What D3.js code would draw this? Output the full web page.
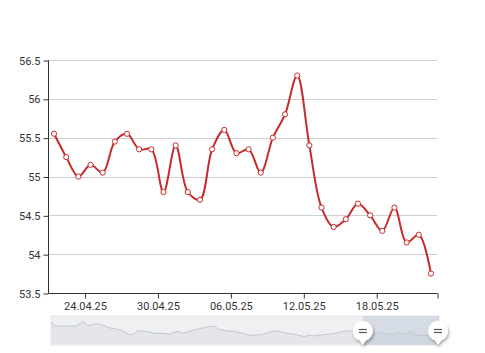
<!DOCTYPE html>
<html>
<head>
<meta charset="utf-8">
<script src="https://cdn.jsdelivr.net/npm/d3@7"></script>
<style>
  body { margin: 0; background: #fff; }
  svg { display: block; font-family: Roboto, "DejaVu Sans", sans-serif; }
</style>
</head>
<body>
<div id="chart"></div>
<script>
// main series: one point per day (shown at noon)
const dates = [
  '21.04.25', '22.04.25', '23.04.25', '24.04.25', '25.04.25', '26.04.25', '27.04.25', '28.04.25',
  '29.04.25', '30.04.25', '01.05.25', '02.05.25', '03.05.25', '04.05.25', '05.05.25', '06.05.25',
  '07.05.25', '08.05.25', '09.05.25', '10.05.25', '11.05.25', '12.05.25', '13.05.25', '14.05.25',
  '15.05.25', '16.05.25', '17.05.25', '18.05.25', '19.05.25', '20.05.25', '21.05.25', '22.05.25'
];
const values = [
  55.55, 55.25, 55.0, 55.15, 55.05, 55.45, 55.55, 55.35,
  55.35, 54.8, 55.4, 54.8, 54.7, 55.35, 55.6, 55.3,
  55.35, 55.05, 55.5, 55.8, 56.3, 55.4, 54.6, 54.35,
  54.45, 54.65, 54.5, 54.3, 54.6, 54.15, 54.25, 53.75
];
const yTicks = [53.5, 54, 54.5, 55, 55.5, 56, 56.5];
const xTickLabels = ['24.04.25', '30.04.25', '06.05.25', '12.05.25', '18.05.25'];

// earlier history shown only in the scrollbar preview
const historyDates = [
  '11.12.24', '12.12.24', '21.12.24', '24.12.24', '26.12.24', '28.12.24', '31.12.24', '04.01.25',
  '09.01.25', '12.01.25', '14.01.25', '16.01.25', '19.01.25', '23.01.25', '27.01.25', '29.01.25',
  '02.02.25', '04.02.25', '07.02.25', '11.02.25', '14.02.25', '17.02.25', '19.02.25', '23.02.25',
  '25.02.25', '01.03.25', '04.03.25', '09.03.25', '14.03.25', '16.03.25', '20.03.25', '24.03.25',
  '27.03.25', '29.03.25', '31.03.25', '02.04.25', '06.04.25', '10.04.25', '13.04.25', '16.04.25'
];
const historyValues = [
  59.7, 58.4, 58.4, 60.25, 58.4, 59.15, 59.3, 57.7,
  56.7, 54.9, 54.9, 56.4, 56.2, 55.3, 55.3, 54.9,
  56.2, 55.3, 56.3, 57.3, 58.0, 58.4, 57.0, 56.3,
  56.3, 55.3, 54.5, 54.7, 56.3, 56.2, 55.3, 54.7,
  53.9, 54.5, 54.2, 54.5, 54.9, 55.6, 56.3, 56.3
];

const width = 485;
const height = 353;
const margin = { top: 60, right: 48, bottom: 60, left: 48 };

const parse = d3.timeParse('%d.%m.%y');
const noon = (s) => d3.timeHour.offset(parse(s), 12);

const data = dates.map((d, i) => ({ date: noon(d), value: values[i] }));
const history = historyDates.map((d, i) => ({ date: noon(d), value: historyValues[i] }));
const allData = history.concat(data);

const start = parse(dates[0]);
const end = d3.timeDay.offset(parse(dates[dates.length - 1]), 1);

const svg = d3.select('#chart').append('svg')
  .attr('width', width)
  .attr('height', height);

const x = d3.scaleTime()
  .domain([start, end])
  .range([margin.left, 437]);

const y = d3.scaleLinear()
  .domain([53.5, 56.5])
  .range([293, 60]);

// grid
svg.append('g')
  .selectAll('line')
  .data(yTicks)
  .enter()
  .append('line')
  .attr('x1', margin.left)
  .attr('x2', 437)
  .attr('y1', (d) => Math.round(y(d)) + 0.5)
  .attr('y2', (d) => Math.round(y(d)) + 0.5)
  .attr('stroke', '#cfcfcf')
  .attr('stroke-width', 1);

// y axis
const yAxis = svg.append('g')
  .attr('transform', `translate(${margin.left + 0.5},0.5)`)
  .call(d3.axisLeft(y).tickValues(yTicks).tickSize(5).tickPadding(3).tickFormat(d3.format('')));

// x axis
const xAxis = svg.append('g')
  .attr('transform', 'translate(0.5,293.5)')
  .call(d3.axisBottom(x)
    .tickValues(xTickLabels.map(parse).concat([end]))
    .tickSize(5)
    .tickPadding(4)
    .tickFormat((d) => (+d === +end ? '' : d3.timeFormat('%d.%m.%y')(d))));

[yAxis, xAxis].forEach((ax) => {
  ax.select('.domain').attr('stroke', '#333');
  ax.selectAll('.tick line').attr('stroke', '#333');
  ax.selectAll('.tick text')
    .attr('fill', '#333')
    .style('font-size', '11px')
    .style('font-family', 'Roboto, "DejaVu Sans", sans-serif');
});
yAxis.select('.domain').attr('d', `M0,${y(56.5)}V${y(53.5)}`);
xAxis.select('.domain').attr('d', `M${margin.left},0H437`);

// line
const line = d3.line()
  .x((d) => x(d.date))
  .y((d) => y(d.value))
  .curve(d3.curveCatmullRom.alpha(0.5));

svg.append('path')
  .datum(data)
  .attr('d', line)
  .attr('fill', 'none')
  .attr('stroke', '#c62a2a')
  .attr('stroke-width', 2);

svg.append('g')
  .selectAll('circle')
  .data(data)
  .enter()
  .append('circle')
  .attr('cx', (d) => x(d.date))
  .attr('cy', (d) => y(d.value))
  .attr('r', 2.6)
  .attr('fill', '#fff')
  .attr('stroke', '#c62a2a')
  .attr('stroke-width', 1);

// scrollbar
const sb = { x0: 51, x1: 439, y0: 316, y1: 345 };
const xs = d3.scaleTime()
  .domain([parse(historyDates[0]), end])
  .range([sb.x0, sb.x1]);
const ys = d3.scaleLinear()
  .domain(d3.extent(allData, (d) => d.value))
  .range([337, 321.7]);

const scroll = svg.append('g').attr('class', 'scrollbar');

scroll.append('rect')
  .attr('x', sb.x0)
  .attr('y', sb.y0)
  .attr('width', sb.x1 - sb.x0)
  .attr('height', sb.y1 - sb.y0)
  .attr('fill', '#eef0f2')
  .attr('stroke', '#e3e5e8');

const area = d3.area()
  .x((d) => xs(d.date))
  .y0(sb.y1 - 1)
  .y1((d) => ys(d.value));

const preview = [{ date: xs.invert(sb.x0), value: historyValues[0] }]
  .concat(allData)
  .concat([{ date: end, value: values[values.length - 1] }]);

scroll.append('path')
  .datum(preview)
  .attr('d', area)
  .attr('fill', '#e4e6e9');

scroll.append('rect')
  .attr('x', xs(start))
  .attr('y', sb.y0)
  .attr('width', sb.x1 - xs(start))
  .attr('height', sb.y1 - sb.y0)
  .attr('fill', '#a9b8d0')
  .attr('fill-opacity', 0.35);

scroll.append('path')
  .datum(preview)
  .attr('d', d3.line().x((d) => xs(d.date)).y((d) => ys(d.value)))
  .attr('fill', 'none')
  .attr('stroke', '#c4c7cc')
  .attr('stroke-width', 1);

// grips
const defs = svg.append('defs');
const shadow = defs.append('filter').attr('id', 'shadow')
  .attr('x', '-50%').attr('y', '-50%').attr('width', '200%').attr('height', '200%');
shadow.append('feDropShadow')
  .attr('dx', 1).attr('dy', 2).attr('stdDeviation', 1.5)
  .attr('flood-color', '#000').attr('flood-opacity', 0.35);

[xs(start), sb.x1 - 1].forEach((gx) => {
  const g = scroll.append('g').attr('transform', `translate(${gx},331)`);
  g.append('path')
    .attr('d', 'M-10,0 A10,10 0 1 1 3,9.5 L0,14 L-3,9.5 A10,10 0 0 1 -10,0 Z')
    .attr('fill', '#fff')
    .attr('filter', 'url(#shadow)');
  g.append('line').attr('x1', -4).attr('x2', 4).attr('y1', -1.5).attr('y2', -1.5)
    .attr('stroke', '#555').attr('stroke-width', 1.2);
  g.append('line').attr('x1', -4).attr('x2', 4).attr('y1', 1.5).attr('y2', 1.5)
    .attr('stroke', '#555').attr('stroke-width', 1.2);
});
</script>
</body>
</html>
